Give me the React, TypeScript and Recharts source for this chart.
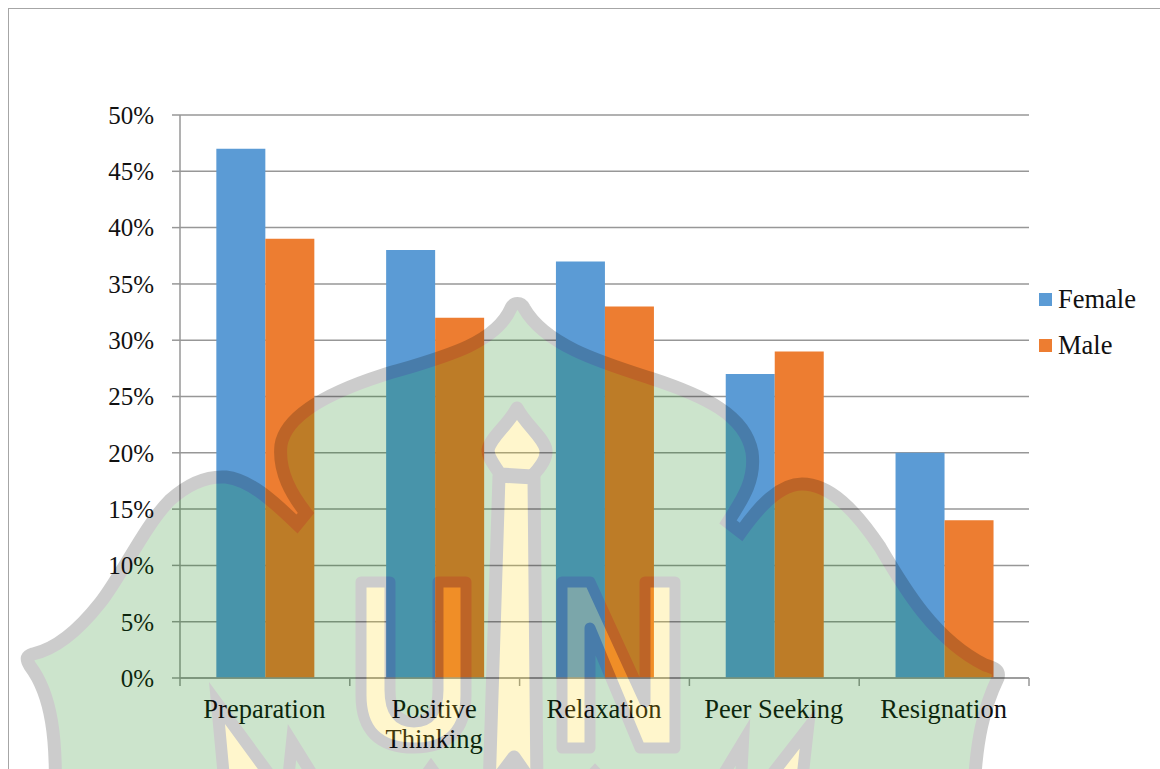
import { BarChart, Bar, XAxis, YAxis, CartesianGrid, Legend } from 'recharts'

const categories = ['Preparation', 'Positive Thinking', 'Relaxation', 'Peer Seeking', 'Resignation']
const female = [47, 38, 37, 27, 20]
const male = [39, 32, 33, 29, 14]
const percentTicks = [0, 5, 10, 15, 20, 25, 30, 35, 40, 45, 50]

const rows = categories.map((name, i) => ({ name, Female: female[i], Male: male[i] }))

const WIDTH = 1160
const HEIGHT = 769
const PLOT_WIDTH = 849
const FONT = '"Liberation Serif", "Times New Roman", serif'
const AXIS_COLOR = '#979797'
const TEXT_COLOR = '#111'

// category labels wrap inside their band, tick marks sit on the band edges
function CategoryTick({ x, y, payload, index }: any) {
  const step = PLOT_WIDTH / categories.length
  const edge = x - step / 2
  const lines = payload.value.length > 14 ? payload.value.split(' ') : [payload.value]
  return (
    <g>
      <line x1={edge} x2={edge} y1={y - 20} y2={y - 12} stroke={AXIS_COLOR} strokeWidth={1.5} />
      {index === categories.length - 1 && (
        <line x1={edge + step} x2={edge + step} y1={y - 20} y2={y - 12} stroke={AXIS_COLOR} strokeWidth={1.5} />
      )}
      <text textAnchor="middle" fontFamily={FONT} fontSize={26.5} fill={TEXT_COLOR}>
        {lines.map((line: string, i: number) => (
          <tspan key={line} x={x - 0.5} y={y + 20 + i * 30}>
            {line}
          </tspan>
        ))}
      </text>
    </g>
  )
}

function SeriesKey({ payload }: any) {
  return (
    <div style={{ fontFamily: FONT, fontSize: 26.5, color: TEXT_COLOR }}>
      {(payload ?? []).map((entry: any) => (
        <div key={entry.value} style={{ display: 'flex', alignItems: 'center', height: 46 }}>
          <span style={{ width: 13, height: 13, marginRight: 6, background: entry.color }} />
          {entry.value}
        </div>
      ))}
    </div>
  )
}

// university crest laid over the whole page at low opacity
function Crest() {
  return (
    <svg
      width={WIDTH}
      height={HEIGHT}
      style={{ position: 'absolute', left: 0, top: 0, pointerEvents: 'none' }}
    >
      <g opacity={0.195} stroke="#000" strokeLinejoin="round" strokeLinecap="round">
        <path
          fill="#007a00"
          strokeWidth={13}
          strokeLinejoin="miter"
          strokeMiterlimit={4}
          d="M55 800 C57 740 52 695 30 666 C25 658 27 656 33 654 C60 648 85 622 100 603
             C122 575 145 525 170 500 C190 482 210 476 226 477 C250 480 272 500 297 524
             L306 513 C292 495 278 472 281 445 C286 415 330 392 383 375
             C440 358 495 345 511 308 C514 302 521 302 524 308 C545 345 600 362 650 378
             C705 396 745 415 752 452 C756 480 742 500 728 522 L741 532
             C760 505 780 484 802 484 C830 484 855 510 880 547 C905 590 935 640 985 665
             C995 668 1000 670 998 678 C985 705 975 740 974 800 Z"
        />
        <g strokeWidth={13} fill="#ffd600">
          <path d="M517 408 C508 425 490 438 488 450 C488 458 495 466 500 474 L532 476 C540 468 547 458 546 450 C544 438 526 425 517 408 Z" />
          <path d="M499 476 L534 478 L537 790 L514 757 L489 790 Z" />
        </g>
        <g strokeWidth={11} fill="#ffd600">
          <path d="M361 582 L390 582 L390 690 Q390 722 414 722 Q438 722 438 690 L438 582 L466 582 L466 695 Q466 748 414 748 Q361 748 361 695 Z" />
          <path d="M562 582 L590 582 L645 702 L645 582 L675 582 L675 748 L640 748 L590 628 L590 748 L562 748 Z" />
        </g>
        <g strokeWidth={12} strokeLinejoin="miter" strokeMiterlimit={8}>
          <path fill="#ffd600" d="M226 800 L217 703 L288 800 Z" />
          <path fill="none" d="M286 800 L292 742 L328 800" />
          <path fill="#ffd600" d="M415 790 L431 768 L447 790 Z" />
          <path fill="#ffd600" d="M578 790 L595 772 L612 790 Z" />
          <path fill="none" d="M708 800 L743 742 L740 800" />
          <path fill="#ffd600" d="M752 800 L808 728 L800 800 Z" />
        </g>
      </g>
    </svg>
  )
}

export default function App() {
  return (
    <div style={{ position: 'absolute', left: 0, top: 0, width: WIDTH, height: HEIGHT, overflow: 'hidden', background: '#fff' }}>
      <div style={{ position: 'absolute', left: 8, top: 8, width: WIDTH, height: HEIGHT, borderLeft: '1.5px solid #a6a6a6', borderTop: '1.5px solid #a6a6a6' }} />
      <BarChart
        width={WIDTH}
        height={HEIGHT}
        data={rows}
        barGap={0}
        barCategoryGap="21.4%"
        margin={{ top: 115, right: 21, bottom: 31, left: 100 }}
        style={{ position: 'absolute', left: 0, top: 0 }}
      >
        <CartesianGrid vertical={false} stroke={AXIS_COLOR} strokeWidth={1.5} />
        <XAxis
          dataKey="name"
          interval={0}
          height={60}
          stroke={AXIS_COLOR}
          strokeWidth={1.5}
          tickLine={false}
          tick={<CategoryTick />}
          tickMargin={14}
        />
        <YAxis
          width={80}
          domain={[0, 50]}
          ticks={percentTicks}
          tickFormatter={(v) => `${v}%`}
          tickSize={8}
          tickMargin={18}
          stroke={AXIS_COLOR}
          strokeWidth={1.5}
          tick={{ fontFamily: FONT, fontSize: 25, fill: TEXT_COLOR }}
        />
        <Legend
          layout="vertical"
          align="right"
          verticalAlign="top"
          width={110}
          content={<SeriesKey />}
          wrapperStyle={{ left: 1039, right: 'auto', top: 276 }}
        />
        <Bar dataKey="Female" fill="#5b9bd5" isAnimationActive={false} />
        <Bar dataKey="Male" fill="#ed7d31" isAnimationActive={false} />
      </BarChart>
      <Crest />
    </div>
  )
}
